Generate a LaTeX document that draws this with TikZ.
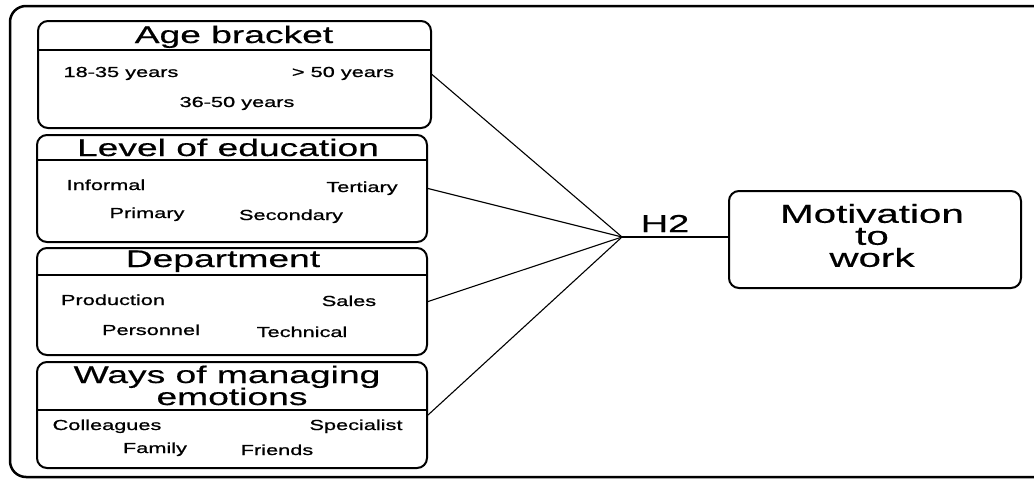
\documentclass[tikz,border=0pt]{standalone}
\usepackage{fontspec}
\setmainfont{Liberation Sans}[FakeStretch=1.55]
\newfontfamily\itmfont{Liberation Sans}[FakeStretch=1.5,FakeBold=0.9]
\newfontfamily\ttlfont{Liberation Sans}[FakeStretch=1.55,FakeBold=0.5]
\begin{document}
\begin{tikzpicture}[x=1pt,y=-1pt,
  box/.style={draw,line width=2pt,rounded corners=10pt,inner sep=0pt},
  ttl/.style={anchor=base,font=\ttlfont\fontsize{24}{28}\selectfont,inner sep=0pt},
  itm/.style={anchor=base,font=\itmfont\fontsize{14.5}{17}\selectfont,inner sep=0pt},
  sepline/.style={line width=1.3pt},
  conn/.style={line width=1.1pt}]
\useasboundingbox (0,0) rectangle (1034,479);
\begin{scope}
  \clip (0,0) rectangle (1034,479);
  \draw[line width=2.5pt,rounded corners=16pt] (10,6) rectangle (1060,477);
\end{scope}

% boxes
\node[box,minimum width=393pt,minimum height=107pt] (b1) at (234.5,74.5) {};
\node[box,minimum width=390pt,minimum height=107pt] (b2) at (232,188.5) {};
\node[box,minimum width=390pt,minimum height=107pt] (b3) at (232,301.5) {};
\node[box,minimum width=390pt,minimum height=106pt] (b4) at (232,415) {};
\node[box,minimum width=292pt,minimum height=97pt] (mot) at (875,239.5) {};

% separators
\draw[sepline] (b1.west |- 0,50) -- (b1.east |- 0,50);
\draw[sepline] (b2.west |- 0,160) -- (b2.east |- 0,160);
\draw[sepline] (b3.west |- 0,275) -- (b3.east |- 0,275);
\draw[sepline] (b4.west |- 0,410) -- (b4.east |- 0,410);

% titles
\node[ttl] (t1) at (234,43) {Age bracket};
\node[ttl] (t2) at (228,156) {Level of education};
\node[ttl] (t3) at (223,267) {Department};
\node[ttl] (t4a) at (227,383) {Ways of managing};
\node[ttl] (t4b) at (232,405) {emotions};

% items
\node[itm] (a1) at (121,77) {18-35 years};
\node[itm] (a2) at (343,77) {> 50 years};
\node[itm] (a3) at (237,107) {36-50 years};

\node[itm] (e1) at (106,190) {Informal};
\node[itm] (e2) at (362,192) {Tertiary};
\node[itm] (e3) at (147,218) {Primary};
\node[itm] (e4) at (291,220) {Secondary};

\node[itm] (d1) at (113,305) {Production};
\node[itm] (d2) at (349,306) {Sales};
\node[itm] (d3) at (151,335) {Personnel};
\node[itm] (d4) at (302,337) {Technical};

\node[itm] (w1) at (107,430) {Colleagues};
\node[itm] (w2) at (356,430) {Specialist};
\node[itm] (w3) at (155,453) {Family};
\node[itm] (w4) at (277,455) {Friends};

% hub and connectors
\coordinate (hub) at (622,237);
\draw[conn] (b1.east) -- (hub);
\draw[conn] (b2.east) -- (hub);
\draw[conn] (b3.east) -- (hub);
\draw[conn] (b4.east) -- (hub);
\draw[conn] (hub) -- (mot.west |- hub);
\node[anchor=base,font=\ttlfont\fontsize{24.5}{28}\selectfont,inner sep=0pt] (h2) at (665,232) {H2};

% motivation text
\node[align=center,inner sep=0pt,font=\ttlfont\fontsize{26}{22}\selectfont] (mt) at (872,235.5) {Motivation\\to\\work};
\end{tikzpicture}
\end{document}
